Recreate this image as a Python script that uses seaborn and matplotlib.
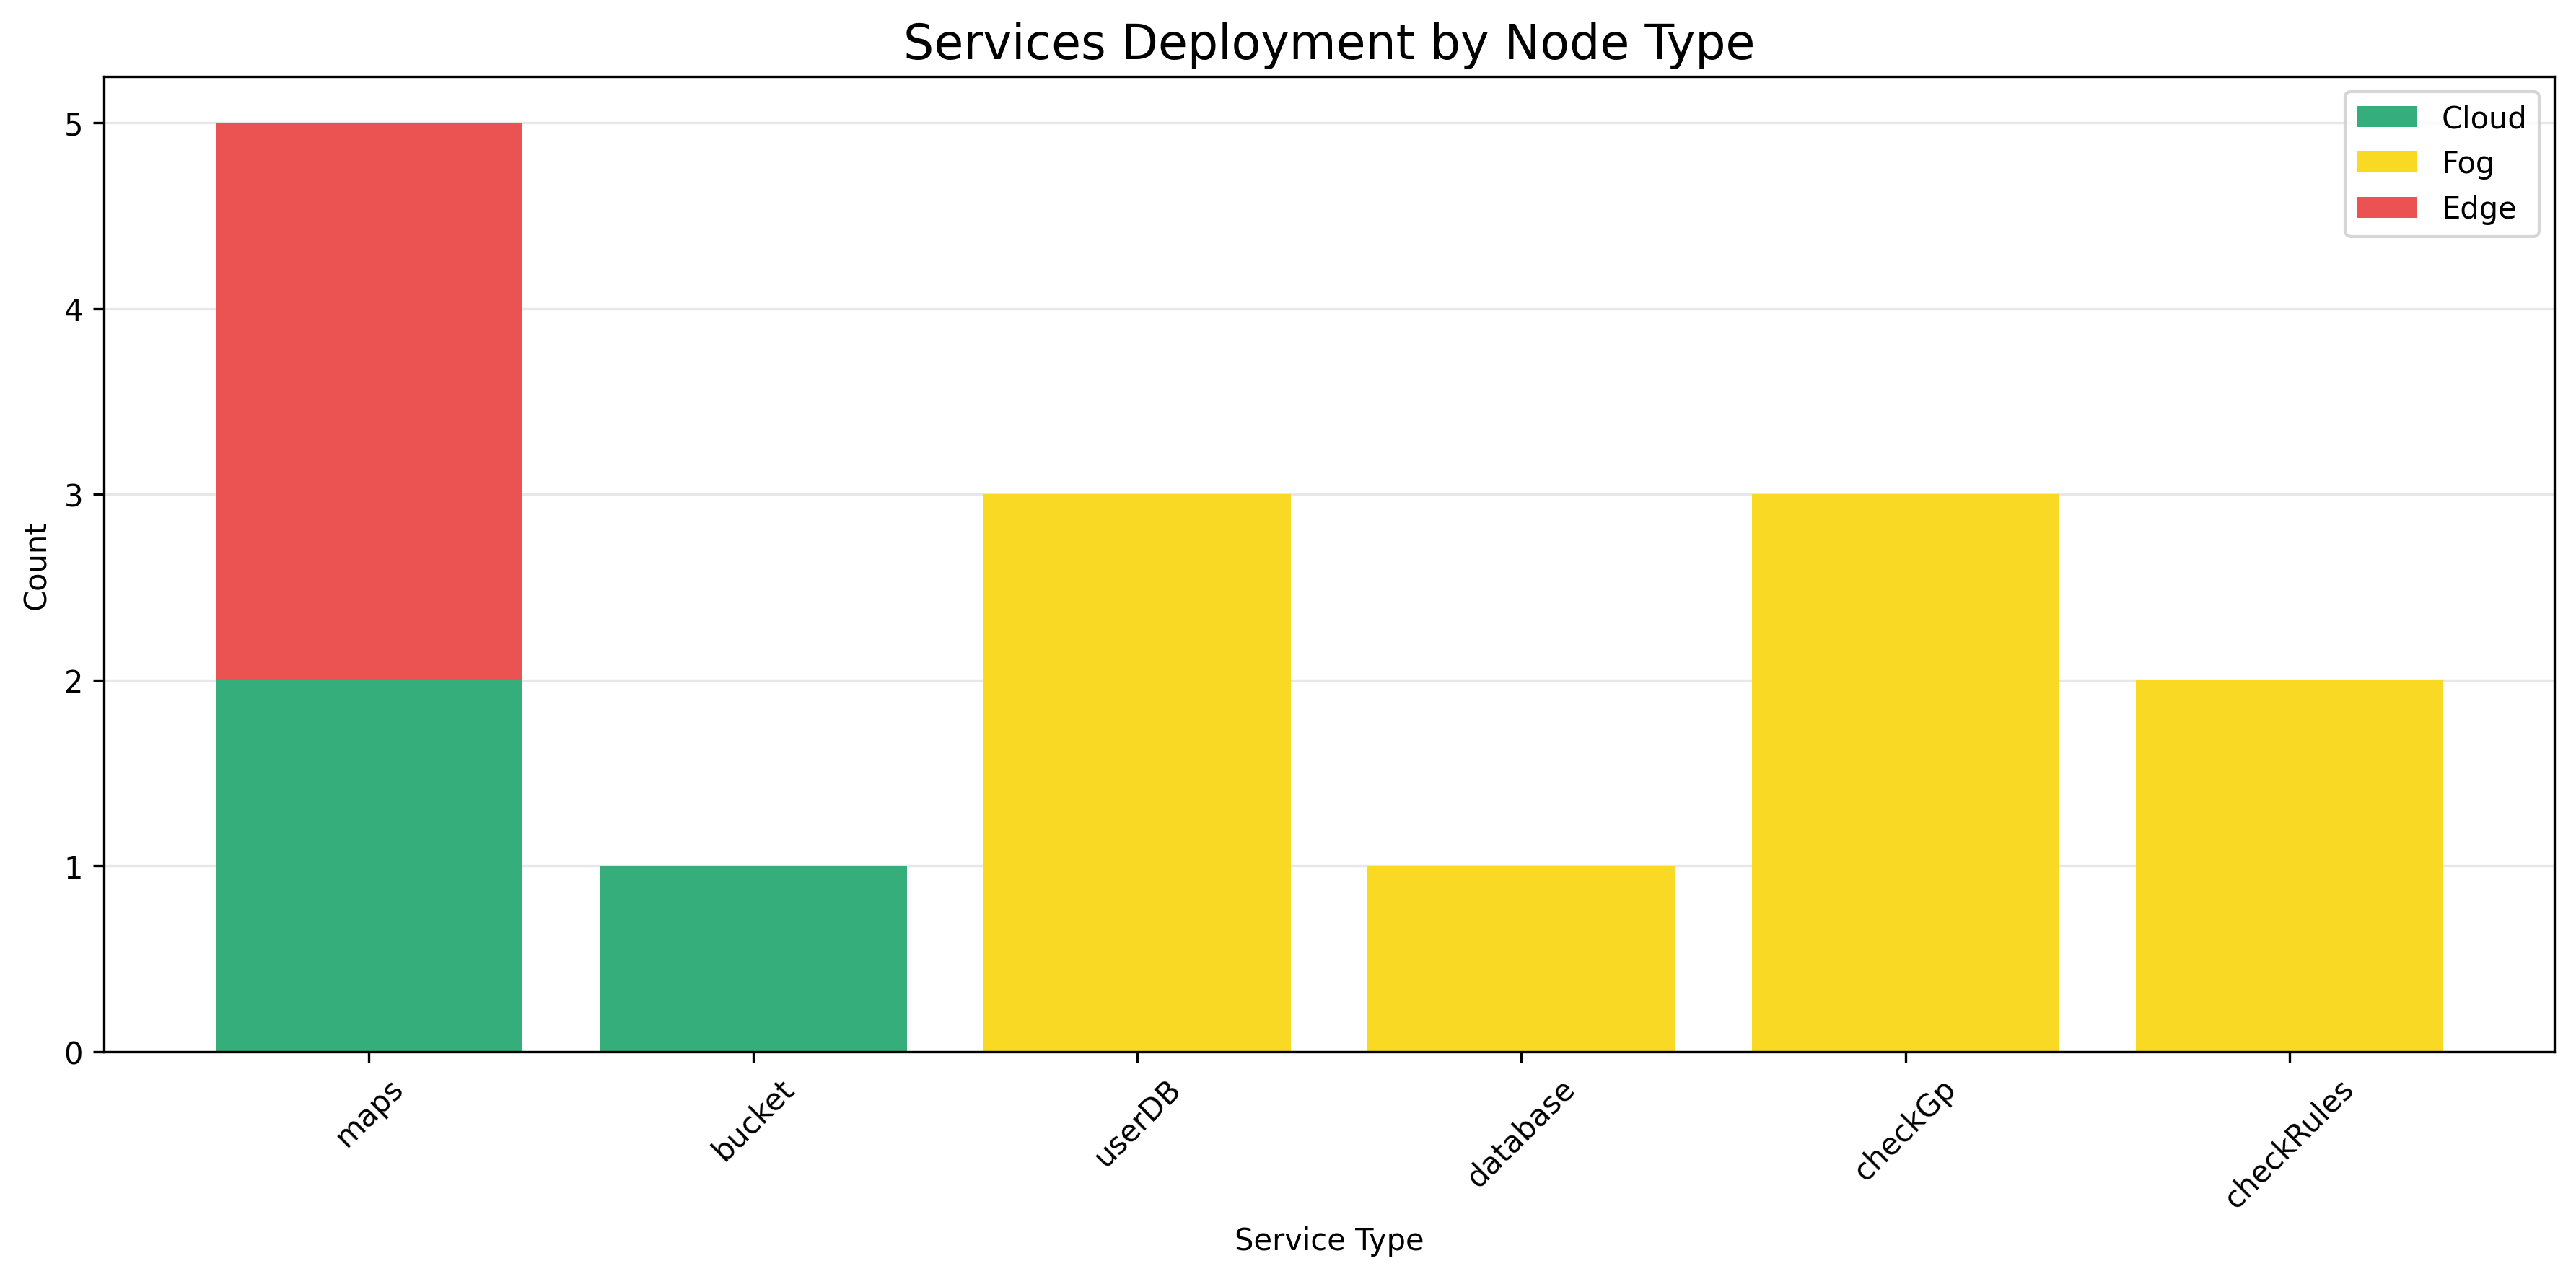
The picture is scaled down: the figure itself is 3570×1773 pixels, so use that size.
import numpy as np
import matplotlib
matplotlib.use("Agg")
import matplotlib.pyplot as plt
import seaborn as sns

# Daten
services = ["maps", "bucket", "userDB", "database", "checkGp", "checkRules"]
cloud = [2, 1, 0, 0, 0, 0]
fog = [0, 0, 3, 1, 3, 2]
edge = [3, 0, 0, 0, 0, 0]

colors = {"Cloud": "#36AE7C", "Fog": "#F9D923", "Edge": "#EB5353"}

fig, ax = plt.subplots(figsize=(11.9, 5.9133), dpi=300)
fig.subplots_adjust(left=0.0404, right=0.9916, top=0.9397, bottom=0.1776)

bottom_fog = np.array(cloud)
bottom_edge = np.array(cloud) + np.array(fog)

sns.barplot(x=services, y=cloud, color=colors["Cloud"], label="Cloud",
            errorbar=None, width=0.8, saturation=1, ax=ax)
sns.barplot(x=services, y=fog, bottom=bottom_fog, color=colors["Fog"],
            label="Fog", errorbar=None, width=0.8, saturation=1, ax=ax)
sns.barplot(x=services, y=edge, bottom=bottom_edge, color=colors["Edge"],
            label="Edge", errorbar=None, width=0.8, saturation=1, ax=ax)

ax.set_xlim(-0.69, 5.69)
ax.set_ylim(0, 5.25)
ax.set_title("Services Deployment by Node Type", fontsize=16)
ax.set_xlabel("Service Type")
ax.set_ylabel("Count")
ax.tick_params(axis="x", labelrotation=45)
ax.yaxis.grid(True, alpha=0.3)
ax.set_axisbelow(True)
ax.legend(loc="upper right")

fig.savefig("out.png", dpi=300)
